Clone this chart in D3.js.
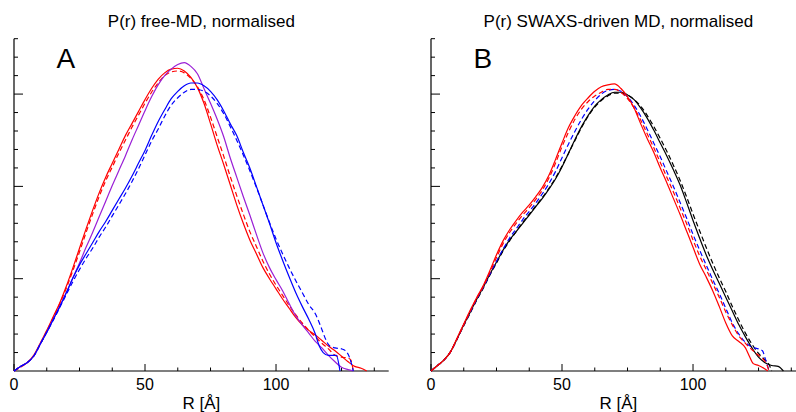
<!DOCTYPE html>
<html>
<head>
<meta charset="utf-8">
<script src="https://cdn.jsdelivr.net/npm/d3@7"></script>
<style>
  body { margin: 0; background: #fff; }
  svg { display: block; font-family: "Liberation Sans", Arial, sans-serif; }
</style>
</head>
<body>
<div id="chart"></div>
<script>
// R [Å] vs normalised P(r)
// panel A : free MD
const aRedSolid = [[0,0],[2.5,0.05],[5,0.09],[7.5,0.17],[10,0.3],[12.5,0.44],[15,0.59],[17.5,0.74],[20,0.92],[22.5,1.12],[25,1.33],[27.5,1.54],[30,1.74],[32.5,1.93],[35,2.1],[37.5,2.25],[40,2.4],[42.5,2.55],[45,2.68],[47.5,2.81],[50,2.94],[52.5,3.06],[55,3.16],[57.5,3.23],[60,3.27],[62.5,3.28],[65,3.25],[67.5,3.18],[70,3.07],[72.5,2.9],[75,2.68],[77.5,2.45],[80,2.24],[82.5,2.02],[85,1.8],[87.5,1.6],[90,1.42],[92.5,1.27],[95,1.12],[97.5,1.0],[100,0.89],[102.5,0.78],[105,0.68],[107.5,0.58],[110,0.5],[112.5,0.44],[115,0.39],[117.5,0.33],[120,0.27],[122.5,0.22],[125,0.16],[127.5,0.1],[130,0.05],[132.5,0.03],[134.6,0]]
const aRedDash = [[0,0],[2.5,0.04],[5,0.09],[7.5,0.16],[10,0.29],[12.5,0.43],[15,0.58],[17.5,0.73],[20,0.9],[22.5,1.09],[25,1.29],[27.5,1.5],[30,1.7],[32.5,1.89],[35,2.06],[37.5,2.21],[40,2.36],[42.5,2.5],[45,2.64],[47.5,2.77],[50,2.9],[52.5,3.02],[55,3.12],[57.5,3.2],[60,3.24],[62.5,3.25],[65,3.23],[67.5,3.17],[70,3.08],[72.5,2.94],[75,2.75],[77.5,2.54],[80,2.33],[82.5,2.11],[85,1.9],[87.5,1.7],[90,1.51],[92.5,1.35],[95,1.19],[97.5,1.05],[100,0.93],[102.5,0.82],[105,0.71],[107.5,0.61],[110,0.52],[112.5,0.44],[115,0.37],[117.5,0.3],[120,0.24],[122.5,0.17],[125,0.15],[127.5,0.14],[128.5,0.12],[129.5,0]]
const aPurple = [[0,0],[2.5,0.05],[5,0.09],[7.5,0.16],[10,0.29],[12.5,0.42],[15,0.56],[17.5,0.7],[20,0.85],[22.5,1.01],[25,1.17],[27.5,1.34],[30,1.5],[32.5,1.67],[35,1.84],[37.5,2.01],[40,2.17],[42.5,2.33],[45,2.5],[47.5,2.66],[50,2.82],[52.5,2.97],[55,3.1],[57.5,3.2],[60,3.27],[62.5,3.32],[65,3.34],[67.5,3.3],[70,3.22],[72.5,3.06],[75,2.9],[77.5,2.73],[80,2.54],[82.5,2.31],[85,2.1],[87.5,1.89],[90,1.69],[92.5,1.48],[95,1.28],[97.5,1.12],[100,0.99],[102.5,0.87],[105,0.73],[107.5,0.6],[110,0.5],[112.5,0.41],[115,0.32],[117.5,0.25],[120,0.17],[122.5,0.1],[125,0.04],[127.5,0.015],[129.5,0]]
const aBlueSolid = [[0,0],[2.5,0.05],[5,0.09],[7.5,0.16],[10,0.29],[12.5,0.42],[15,0.56],[17.5,0.7],[20,0.85],[22.5,1.01],[25,1.15],[27.5,1.27],[30,1.39],[32.5,1.51],[35,1.62],[37.5,1.74],[40,1.86],[42.5,1.98],[45,2.11],[47.5,2.25],[50,2.39],[52.5,2.55],[55,2.7],[57.5,2.83],[60,2.95],[62.5,3.03],[65,3.09],[67.5,3.12],[70,3.12],[72.5,3.09],[75,3.03],[77.5,2.94],[80,2.82],[82.5,2.68],[85,2.55],[87.5,2.37],[90,2.2],[92.5,2.0],[95,1.8],[97.5,1.6],[100,1.39],[102.5,1.2],[105,1.02],[107.5,0.85],[110,0.7],[112.5,0.56],[115,0.4],[116.5,0.27],[118,0.2],[120,0.17],[123,0.17],[124.4,0]]
const aBlueDash = [[0,0],[2.5,0.05],[5,0.09],[7.5,0.16],[10,0.29],[12.5,0.42],[15,0.55],[17.5,0.69],[20,0.83],[22.5,0.97],[25,1.1],[27.5,1.22],[30,1.33],[32.5,1.45],[35,1.56],[37.5,1.68],[40,1.8],[42.5,1.92],[45,2.05],[47.5,2.19],[50,2.34],[52.5,2.49],[55,2.62],[57.5,2.76],[60,2.88],[62.5,2.96],[65,3.02],[67.5,3.05],[70,3.05],[72.5,3.03],[75,2.98],[77.5,2.9],[80,2.79],[82.5,2.65],[85,2.5],[87.5,2.34],[90,2.17],[92.5,1.99],[95,1.8],[97.5,1.61],[100,1.43],[102.5,1.27],[105,1.12],[107.5,0.98],[110,0.85],[112.5,0.72],[115,0.62],[117.5,0.45],[119,0.34],[120.5,0.27],[122.5,0.25],[125,0.24],[126.5,0.22],[128,0.15],[129.5,0]]

// panel B : SWAXS-driven MD
const bRedSolid = [[0,0],[2.5,0.06],[5,0.12],[7.5,0.21],[10,0.36],[12.5,0.51],[15,0.66],[17.5,0.8],[20,0.93],[22.5,1.09],[25,1.26],[27.5,1.41],[30,1.53],[32.5,1.63],[35,1.72],[37.5,1.8],[40,1.89],[42.5,1.99],[45,2.12],[47.5,2.29],[50,2.47],[52.5,2.64],[55,2.77],[57.5,2.88],[60,2.96],[62.5,3.03],[65,3.08],[67.5,3.1],[70,3.11],[72.5,3.06],[75,2.97],[77.5,2.85],[80,2.68],[82.5,2.52],[85,2.37],[87.5,2.2],[90,2.04],[92.5,1.87],[95,1.7],[97.5,1.52],[100,1.34],[102.5,1.16],[105,1.02],[107.5,0.87],[110,0.7],[112.5,0.52],[115,0.38],[117.5,0.32],[120,0.25],[121.5,0.16],[123,0.08],[125,0.06],[127,0.03],[128.5,0]]
const bRedDash = [[0,0],[2.5,0.06],[5,0.12],[7.5,0.21],[10,0.35],[12.5,0.5],[15,0.65],[17.5,0.79],[20,0.92],[22.5,1.07],[25,1.23],[27.5,1.38],[30,1.5],[32.5,1.6],[35,1.69],[37.5,1.77],[40,1.86],[42.5,1.96],[45,2.09],[47.5,2.25],[50,2.43],[52.5,2.59],[55,2.73],[57.5,2.84],[60,2.92],[62.5,2.98],[65,3.02],[67.5,3.05],[70,3.05],[72.5,3.02],[75,2.95],[77.5,2.85],[80,2.72],[82.5,2.57],[85,2.42],[87.5,2.26],[90,2.1],[92.5,1.94],[95,1.77],[97.5,1.6],[100,1.42],[102.5,1.25],[105,1.1],[107.5,0.95],[110,0.8],[112.5,0.64],[115,0.5],[117.5,0.38],[120,0.3],[122.5,0.23],[125,0.17],[127,0.12],[128,0.08],[129,0]]
const bBlueDash = [[0,0],[2.5,0.06],[5,0.12],[7.5,0.21],[10,0.35],[12.5,0.5],[15,0.64],[17.5,0.78],[20,0.91],[22.5,1.05],[25,1.19],[27.5,1.32],[30,1.44],[32.5,1.54],[35,1.64],[37.5,1.73],[40,1.82],[42.5,1.92],[45,2.03],[47.5,2.16],[50,2.31],[52.5,2.46],[55,2.6],[57.5,2.73],[60,2.84],[62.5,2.93],[65,3.0],[67.5,3.04],[70,3.05],[72.5,3.03],[75,2.97],[77.5,2.88],[80,2.76],[82.5,2.62],[85,2.47],[87.5,2.32],[90,2.16],[92.5,2.0],[95,1.83],[97.5,1.66],[100,1.48],[102.5,1.31],[105,1.15],[107.5,0.99],[110,0.84],[112.5,0.68],[115,0.52],[117.5,0.4],[120,0.31],[122.5,0.26],[125,0.24],[126.5,0.22],[127.5,0.14],[128.5,0.05],[129,0]]
const bBlackSolid = [[0,0],[2.5,0.06],[5,0.12],[7.5,0.21],[10,0.35],[12.5,0.5],[15,0.64],[17.5,0.78],[20,0.91],[22.5,1.05],[25,1.18],[27.5,1.31],[30,1.42],[32.5,1.51],[35,1.6],[37.5,1.69],[40,1.78],[42.5,1.87],[45,1.97],[47.5,2.08],[50,2.21],[52.5,2.36],[55,2.51],[57.5,2.65],[60,2.77],[62.5,2.87],[65,2.94],[67.5,2.99],[70,3.02],[72.5,3.02],[75,2.99],[77.5,2.94],[80,2.85],[82.5,2.74],[85,2.61],[87.5,2.47],[90,2.33],[92.5,2.18],[95,2.02],[97.5,1.83],[100,1.63],[102.5,1.44],[105,1.26],[107.5,1.1],[110,0.95],[112.5,0.8],[115,0.65],[117.5,0.5],[120,0.37],[122.5,0.25],[125,0.15],[127.5,0.09],[130,0.06],[132.5,0.05],[134.5,0]]
const bBlackDash = [[0,0],[2.5,0.06],[5,0.12],[7.5,0.21],[10,0.35],[12.5,0.49],[15,0.63],[17.5,0.77],[20,0.9],[22.5,1.04],[25,1.17],[27.5,1.3],[30,1.41],[32.5,1.51],[35,1.61],[37.5,1.7],[40,1.79],[42.5,1.88],[45,1.98],[47.5,2.09],[50,2.22],[52.5,2.36],[55,2.5],[57.5,2.64],[60,2.76],[62.5,2.86],[65,2.93],[67.5,2.98],[70,3.01],[72.5,3.01],[75,2.99],[77.5,2.94],[80,2.87],[82.5,2.77],[85,2.65],[87.5,2.52],[90,2.38],[92.5,2.23],[95,2.07],[97.5,1.89],[100,1.7],[102.5,1.52],[105,1.34],[107.5,1.17],[110,1.01],[112.5,0.86],[115,0.7],[117.5,0.55],[120,0.41],[122.5,0.29],[125,0.19],[127.5,0.12],[129,0.07],[130,0]]

const xTickLabels = [0, 50, 100]
const panelTitles = ["P(r) free-MD, normalised", "P(r) SWAXS-driven MD, normalised"]
const panelLetters = ["A", "B"]

const W = 796, H = 412

const svg = d3.select("#chart")
  .append("svg")
  .attr("width", W)
  .attr("height", H)

// shared y scale, both panels
const y = d3.scaleLinear().domain([0, 3.6]).range([371, 38.7])

const panels = [
  {
    left: 14,
    series: [
      { data: aRedSolid, color: "#ff0000", dash: null },
      { data: aRedDash, color: "#ff0000", dash: "5,3" },
      { data: aPurple, color: "#9a1fd6", dash: null },
      { data: aBlueSolid, color: "#0000ff", dash: null },
      { data: aBlueDash, color: "#0000ff", dash: "5,3" }
    ]
  },
  {
    left: 431,
    series: [
      { data: bBlackSolid, color: "#000000", dash: null },
      { data: bBlackDash, color: "#000000", dash: "5,3" },
      { data: bBlueDash, color: "#0000ff", dash: "5,3" },
      { data: bRedSolid, color: "#ff0000", dash: null },
      { data: bRedDash, color: "#ff0000", dash: "5,3" }
    ]
  }
]

panels.forEach((p, i) => {
  const x = d3.scaleLinear().domain([0, 143]).range([p.left, p.left + 374.7])
  const g = svg.append("g")

  // x axis: ticks point up, major every 50
  const xTicks = d3.range(0, 143, 12.5)
  g.append("line")
    .attr("x1", x(0)).attr("x2", x(143))
    .attr("y1", y(0)).attr("y2", y(0))
    .attr("stroke", "#000").attr("stroke-width", 1.2)
  g.selectAll(".xt")
    .data(xTicks)
    .enter().append("line")
    .attr("x1", d => x(d)).attr("x2", d => x(d))
    .attr("y1", y(0))
    .attr("y2", d => y(0) - (d % 50 === 0 ? 7 : 3.5))
    .attr("stroke", "#000").attr("stroke-width", 1)
  g.selectAll(".xl")
    .data(xTickLabels)
    .enter().append("text")
    .attr("x", d => x(d)).attr("y", 389.5)
    .attr("text-anchor", "middle")
    .attr("font-size", 16)
    .text(d => d)

  // y axis: ticks point right, no labels
  const yTicks = d3.range(1, 19).map(k => k * 0.2)
  g.append("line")
    .attr("x1", x(0)).attr("x2", x(0))
    .attr("y1", y(0)).attr("y2", y(3.6))
    .attr("stroke", "#000").attr("stroke-width", 1.2)
  g.selectAll(".yt")
    .data(yTicks)
    .enter().append("line")
    .attr("x1", x(0))
    .attr("x2", (d, k) => x(0) + ((k + 1) % 5 === 0 ? 9 : 4))
    .attr("y1", d => y(d)).attr("y2", d => y(d))
    .attr("stroke", "#000").attr("stroke-width", 1)

  const line = d3.line()
    .x(d => x(d[0]))
    .y(d => y(d[1]))
    .curve(d3.curveMonotoneX)

  p.series.forEach(s => {
    g.append("path")
      .datum(s.data)
      .attr("d", line)
      .attr("fill", "none")
      .attr("stroke", s.color)
      .attr("stroke-width", 1.2)
      .attr("stroke-dasharray", s.dash)
  })

  const cx = (x(0) + x(143)) / 2
  svg.append("text")
    .attr("x", cx).attr("y", 27)
    .attr("text-anchor", "middle")
    .attr("font-size", 17)
    .text(panelTitles[i])
  svg.append("text")
    .attr("x", cx).attr("y", 409)
    .attr("text-anchor", "middle")
    .attr("font-size", 17)
    .text("R [Å]")
  svg.append("text")
    .attr("x", x(0) + 42.5).attr("y", 68)
    .attr("font-size", 28)
    .text(panelLetters[i])
})
</script>
</body>
</html>
